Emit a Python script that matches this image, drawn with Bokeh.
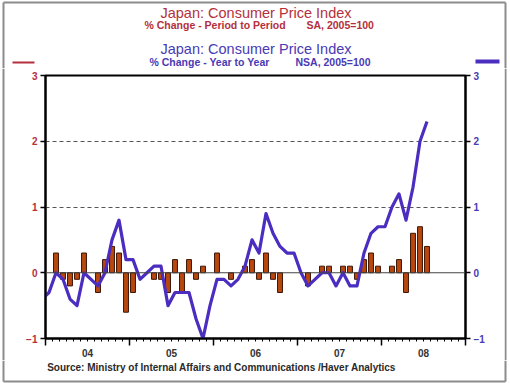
from bokeh.plotting import figure
from bokeh.layouts import column, row
from bokeh.models import (Range1d, LinearAxis, FixedTicker, Span,
                          ColumnDataSource, Grid)
from bokeh.core.properties import value
from bokeh.embed import file_html
from bokeh.resources import INLINE

# ---------------- data ----------------
year_labels = ["04", "05", "06", "07", "08"]
first_year = 2004

# % change year to year (NSA), monthly, starting Dec 2003
yoy_start = "2003-12"
yoy = [-0.4,
       -0.3, 0.0, -0.1, -0.4, -0.5, 0.0, -0.1, -0.2, 0.0, 0.5, 0.8, 0.2,
       0.2, -0.1, 0.0, 0.1, 0.1, -0.5, -0.3, -0.3, -0.3, -0.7, -1.0, -0.5,
       -0.1, -0.1, -0.2, -0.1, 0.1, 0.5, 0.3, 0.9, 0.6, 0.4, 0.3, 0.3,
       0.0, -0.2, -0.1, 0.0, 0.0, -0.2, 0.0, -0.2, -0.2, 0.3, 0.6, 0.7,
       0.7, 1.0, 1.2, 0.8, 1.3, 2.0, 2.3]

# % change period to period (SA), monthly, starting Jan 2004
mom_start = "2004-01"
mom = [0.0, 0.3, -0.1, -0.2, -0.1, 0.3, 0.0, -0.3, 0.2, 0.4, 0.3, -0.6,
       -0.3, 0.0, 0.0, -0.1, -0.1, -0.3, 0.2, -0.3, 0.2, -0.1, 0.1, 0.0,
       0.3, 0.0, -0.1, 0.0, 0.1, 0.2, -0.1, 0.3, -0.1, -0.3, 0.0, 0.0,
       0.0, -0.2, 0.0, 0.1, 0.1, 0.0, 0.1, 0.1, -0.1, 0.2, 0.3, 0.1,
       0.0, 0.1, 0.2, -0.3, 0.6, 0.7, 0.4]

y_ticks = [-1, 0, 1, 2, 3]
grid_ticks = [1, 2]

title_text = "Japan: Consumer Price Index"
sub1_left, sub1_right = "% Change - Period to Period", "SA, 2005=100"
sub2_left, sub2_right = "% Change - Year to Year", "NSA, 2005=100"
source_text = "Source:  Ministry of Internal Affairs and Communications /Haver Analytics"

RED = "#B4303C"
BLUE = "#4A3AB4"
LINE = "#4B2DC0"
BAR = "#B9480F"
FRAME_GREY = "#8C8C8C"
FONT = "Liberation Sans"
W = 510
STRIP = 6            # width of the side strips carrying the outer frame
BX0, BX1 = 3, 505    # outer frame x positions
HEAD_H, MAIN_H, FOOT_H = 68, 292, 23


def month_positions(start, n):
    y, m = map(int, start.split("-"))
    base = (y - first_year) * 12 + (m - 1)
    return [base + i + 0.5 for i in range(n)]


yoy_x = month_positions(yoy_start, len(yoy))
mom_x = month_positions(mom_start, len(mom))
bar_src = ColumnDataSource(dict(
    x=[x for x, v in zip(mom_x, mom) if v != 0],
    top=[v for v in mom if v != 0]))
line_src = ColumnDataSource(dict(x=yoy_x, y=yoy))

n_years = len(year_labels)


def blank(w, h):
    f = figure(width=w, height=h, output_backend="svg", toolbar_location=None,
               x_range=Range1d(0, w), y_range=Range1d(h, 0),
               x_axis_type=None, y_axis_type=None, min_border=0)
    f.outline_line_color = None
    f.background_fill_color = "white"
    f.border_fill_color = "white"
    return f


def txt(f, x, y, text, color, size, bold=False, align="left"):
    f.text(x=[x], y=[y], text=[text], text_color=color,
           text_font=value(FONT), text_font_size=size,
           text_font_style="bold" if bold else "normal",
           text_align=align, text_baseline="middle")


def frame_lines(f, x0s, y0s, x1s, y1s):
    f.segment(x0=x0s, y0=y0s, x1=x1s, y1=y1s, line_color=FRAME_GREY, line_width=2)


# ---------------- header ----------------
head = blank(W, HEAD_H)
txt(head, 255.5, 12, title_text, RED, "14.5px", align="center")
txt(head, 144, 24.5, sub1_left, RED, "10.5px", bold=True)
txt(head, 306, 24.5, sub1_right, RED, "10.5px", bold=True)
txt(head, 255.5, 48.3, title_text, BLUE, "14.5px", align="center")
txt(head, 149, 61.7, sub2_left, BLUE, "10.5px", bold=True)
txt(head, 295, 61.7, sub2_right, BLUE, "10.5px", bold=True)
head.segment(x0=[12], y0=[62], x1=[34], y1=[62], line_color=RED, line_width=2)
head.segment(x0=[475], y0=[61], x1=[499], y1=[61], line_color=LINE, line_width=4)
frame_lines(head, [BX0, BX0, BX1], [2, 2, 2], [BX1, BX0, BX1], [2, HEAD_H, HEAD_H])

# ---------------- main chart ----------------
p = figure(width=W - 2 * STRIP, height=MAIN_H, output_backend="svg",
           toolbar_location=None,
           x_range=Range1d(0, 12 * n_years), y_range=Range1d(y_ticks[0], y_ticks[-1]),
           x_axis_type=None, y_axis_type=None,
           min_border_left=45 - STRIP, min_border_right=45 - STRIP,
           min_border_top=7, min_border_bottom=22)
p.outline_line_color = "black"
p.outline_line_width = 2
p.background_fill_color = "white"
p.border_fill_color = "white"


def yaxis(color):
    return LinearAxis(ticker=FixedTicker(ticks=y_ticks, minor_ticks=[]),
                      axis_line_width=2, axis_line_color="black",
                      major_tick_out=5, major_tick_in=0, major_tick_line_width=1.5,
                      minor_tick_line_color=None,
                      major_label_standoff=3,
                      major_label_text_color=color,
                      major_label_text_font=FONT,
                      major_label_text_font_style="bold",
                      major_label_text_font_size="10px")


p.add_layout(yaxis(RED), "left")
p.add_layout(yaxis(BLUE), "right")

xa = LinearAxis(ticker=FixedTicker(ticks=[12 * i for i in range(n_years + 1)],
                                   minor_ticks=list(range(0, 12 * n_years + 1))),
                axis_line_width=2, axis_line_color="black",
                major_tick_out=7, major_tick_in=0, major_tick_line_width=1.5,
                minor_tick_out=3, minor_tick_in=0, minor_tick_line_width=1,
                major_label_standoff=0,
                major_label_text_font_size="0px",
                major_label_overrides={12 * i: "" for i in range(n_years + 1)})
p.add_layout(xa, "below")

mid = [12 * i + 6 for i in range(n_years)]
xb = LinearAxis(ticker=FixedTicker(ticks=mid, minor_ticks=[]),
                axis_line_color=None, major_tick_line_color=None,
                minor_tick_line_color=None, major_tick_out=0, minor_tick_out=0,
                major_label_standoff=3,
                major_label_overrides={m: lab for m, lab in zip(mid, year_labels)},
                major_label_text_color="#333333",
                major_label_text_font=FONT,
                major_label_text_font_style="bold",
                major_label_text_font_size="10px")
p.add_layout(xb, "below")

p.add_layout(Grid(dimension=1, ticker=FixedTicker(ticks=grid_ticks),
                  grid_line_color="#555555", grid_line_dash="4 3",
                  grid_line_width=1))

p.vbar(x="x", top="top", bottom=0, width=0.7, source=bar_src,
       fill_color=BAR, line_color="#3C1404", line_width=1)
p.add_layout(Span(location=0, dimension="width", line_color="#444444",
                  line_width=1))
p.line(x="x", y="y", source=line_src, line_width=3.2, line_color=LINE,
       line_join="round")

# side strips carrying the outer grey frame next to the chart
lstrip = blank(STRIP, MAIN_H)
frame_lines(lstrip, [BX0], [0], [BX0], [MAIN_H])
rstrip = blank(STRIP, MAIN_H)
frame_lines(rstrip, [BX1 - (W - STRIP)], [0], [BX1 - (W - STRIP)], [MAIN_H])

# ---------------- footer ----------------
foot = blank(W, FOOT_H)
txt(foot, 46.7, 7, source_text, "#2A2A2A", "10px", bold=True)
frame_lines(foot, [BX0, BX0, BX1], [0, 21, 0], [BX0, BX1, BX1], [21, 21, 21])

middle = row(column(lstrip, spacing=0), p, column(rstrip, spacing=0), spacing=0)
layout = column(row(head, spacing=0), middle, row(foot, spacing=0), spacing=0)
open("out.html", "w").write(file_html(layout, INLINE))
